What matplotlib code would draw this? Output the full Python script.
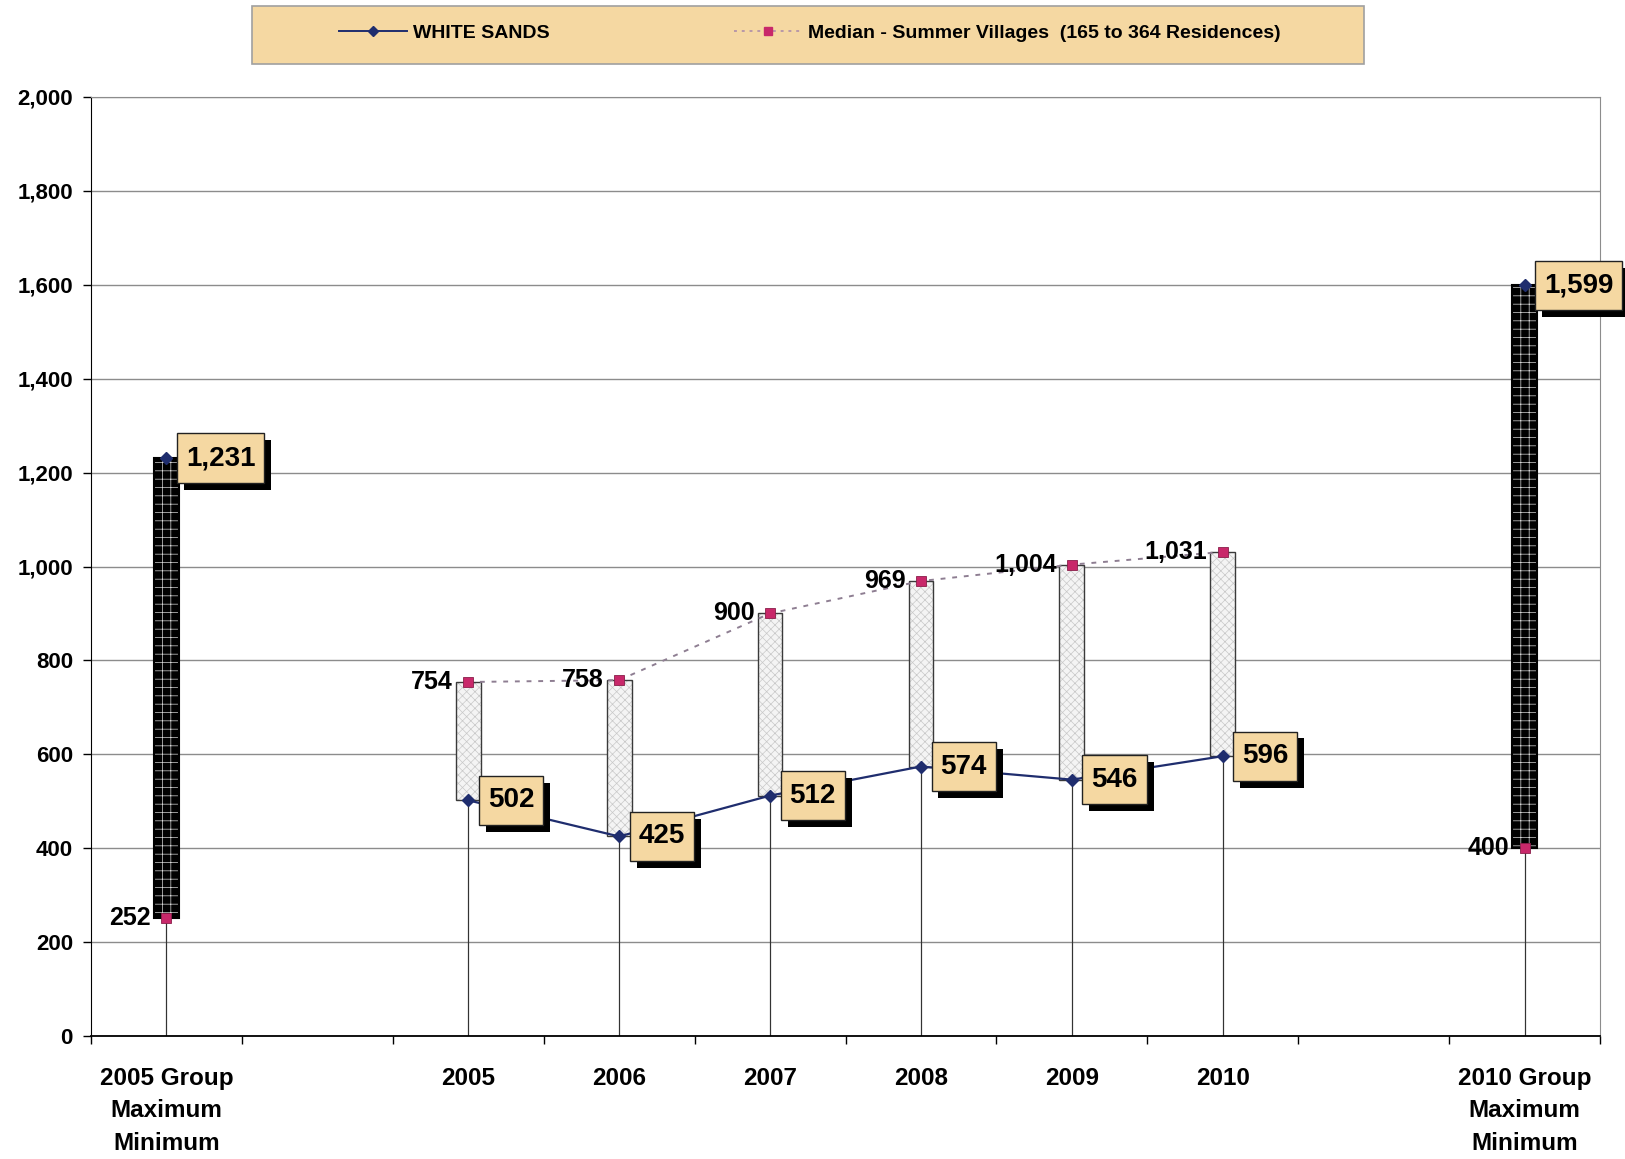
import numpy as np
import matplotlib
matplotlib.use('Agg')
import matplotlib.pyplot as plt
import matplotlib.patheffects as pe
from matplotlib.lines import Line2D
from matplotlib.patches import Rectangle
from matplotlib.path import Path

plt.rcParams['font.family'] = ['Liberation Sans', 'DejaVu Sans']
plt.rcParams['font.weight'] = 'bold'
plt.rcParams['hatch.linewidth'] = 0.5

categories = ['2005 Group\nMaximum\nMinimum', '', '2005', '2006', '2007', '2008',
              '2009', '2010', '', '2010 Group\nMaximum\nMinimum']
white_sands = [1231, np.nan, 502, 425, 512, 574, 546, 596, np.nan, 1599]
median_sv = [252, np.nan, 754, 758, 900, 969, 1004, 1031, np.nan, 400]

ws_name = 'WHITE SANDS'
med_name = 'Median - Summer Villages  (165 to 364 Residences)'

navy = '#1F2D6E'
pink = '#C8286A'
tan = '#F5D8A2'


def tall_box(x0, y0, width, height, mutation_size):
    # square box with more padding top/bottom than at the sides
    px = 0.32 * mutation_size
    py = 0.42 * mutation_size
    x0, y0 = x0 - px, y0 - py
    x1, y1 = x0 + width + 2 * px, y0 + height + 2 * py
    return Path([(x0, y0), (x1, y0), (x1, y1), (x0, y1), (x0, y0)], closed=True)


fig = plt.figure(figsize=(16.25, 11.59), dpi=100)
ax = fig.add_axes([91/1625, 1-1036/1159, 1509/1625, 939/1159])

x = np.arange(len(categories)) + 0.5
ws = np.array(white_sands, dtype=float)
med = np.array(median_sv, dtype=float)

# drop lines to the axis
ok = ~np.isnan(ws)
ax.vlines(x[ok], 0, ws[ok], color='#333333', lw=0.8, zorder=1)
ax.vlines(x[ok], 0, med[ok], color='#333333', lw=0.8, zorder=1)

# up / down bars between the two series
lo = np.fmin(ws, med)
hi = np.fmax(ws, med)
up = ok & (ws > med)
down = ok & (ws <= med)
w = 0.165
ax.bar(x[up], (hi - lo)[up], bottom=lo[up], width=w, color='black',
       edgecolor='#D8D8D8', hatch='++', linewidth=0, zorder=2)
ax.bar(x[up], (hi - lo)[up], bottom=lo[up], width=w, fill=False,
       edgecolor='black', linewidth=1.5, zorder=2)
ax.bar(x[down], (hi - lo)[down], bottom=lo[down], width=w, color='#F4F4F4',
       edgecolor='#C8C8C8', hatch='xxxx', linewidth=0, zorder=2)
ax.bar(x[down], (hi - lo)[down], bottom=lo[down], width=w, fill=False,
       edgecolor='#3A3A3A', linewidth=1.0, zorder=2)

# series lines
ax.plot(x, med, color='#8E7E92', ls=(0, (2.5, 3.5)), lw=1.4, zorder=3)
ax.plot(x, med, ls='none', marker='s', ms=7.5, mfc=pink, mec='#8A1E4A',
        mew=0.6, zorder=4)
ax.plot(x, ws, color=navy, lw=1.6, zorder=3)
ax.plot(x, ws, ls='none', marker='D', ms=6, mfc=navy, mec=navy, zorder=4)

# labels
for xi, v in zip(x, ws):
    if np.isnan(v):
        continue
    t = ax.annotate(f'{v:,.0f}', (xi, v), xytext=(14, 0), textcoords='offset points',
                    ha='left', va='center', fontsize=20, fontweight='bold', zorder=6,
                    bbox=dict(boxstyle=tall_box, fc=tan, ec='#222222', lw=1))
    t.get_bbox_patch().set_path_effects([
        pe.SimplePatchShadow(offset=(5, -5), shadow_rgbFace='black', alpha=1),
        pe.Normal()])
for xi, v in zip(x, med):
    if np.isnan(v):
        continue
    ax.annotate(f'{v:,.0f}', (xi, v), xytext=(-11, 0), textcoords='offset points',
                ha='right', va='center', fontsize=18, fontweight='bold', zorder=6)

# axes
ax.set_xlim(0, len(categories))
ax.set_ylim(0, 2000)
ax.set_yticks(np.arange(0, 2001, 200))
ax.set_yticklabels([f'{v:,}' for v in range(0, 2001, 200)], fontsize=16)
ax.yaxis.grid(True, color='#8C8C8C', lw=1)
ax.set_axisbelow(True)
ax.tick_params(axis='y', length=6, width=1, pad=7)

ax.set_xticks(x)
ax.set_xticklabels(categories, fontsize=17.5, linespacing=1.55)
ax.set_xticks(np.arange(len(categories) + 1), minor=True)
ax.tick_params(axis='x', which='major', length=0, pad=22)
ax.tick_params(axis='x', which='minor', length=6, width=1)

ax.spines['left'].set_color('black')
ax.spines['bottom'].set_color('black')
ax.spines['bottom'].set_linewidth(1.3)
ax.spines['top'].set_color('#8C8C8C')
ax.spines['right'].set_color('#8C8C8C')

# legend box
fig.patches.append(Rectangle((252/1625, 1-64/1159), 1112/1625, 58/1159,
                             transform=fig.transFigure, fc=tan, ec='#A0A0A0', lw=1.2))
handles = [Line2D([], [], color=navy, lw=1.4, marker='D', ms=5, mfc=navy),
           Line2D([], [], color='#B898A8', lw=1.4, ls=(0, (1.5, 2.5)), marker='s',
                  ms=6, mfc=pink, mec=pink)]
fig.legend(handles, [ws_name, med_name], loc='center', ncol=2,
           bbox_to_anchor=(810/1625, 1-33/1159), frameon=False,
           prop={'size': 14, 'weight': 'bold'}, handlelength=3.5,
           columnspacing=9.5, handletextpad=0.3)

fig.savefig('out.png', dpi=100, facecolor='white')
